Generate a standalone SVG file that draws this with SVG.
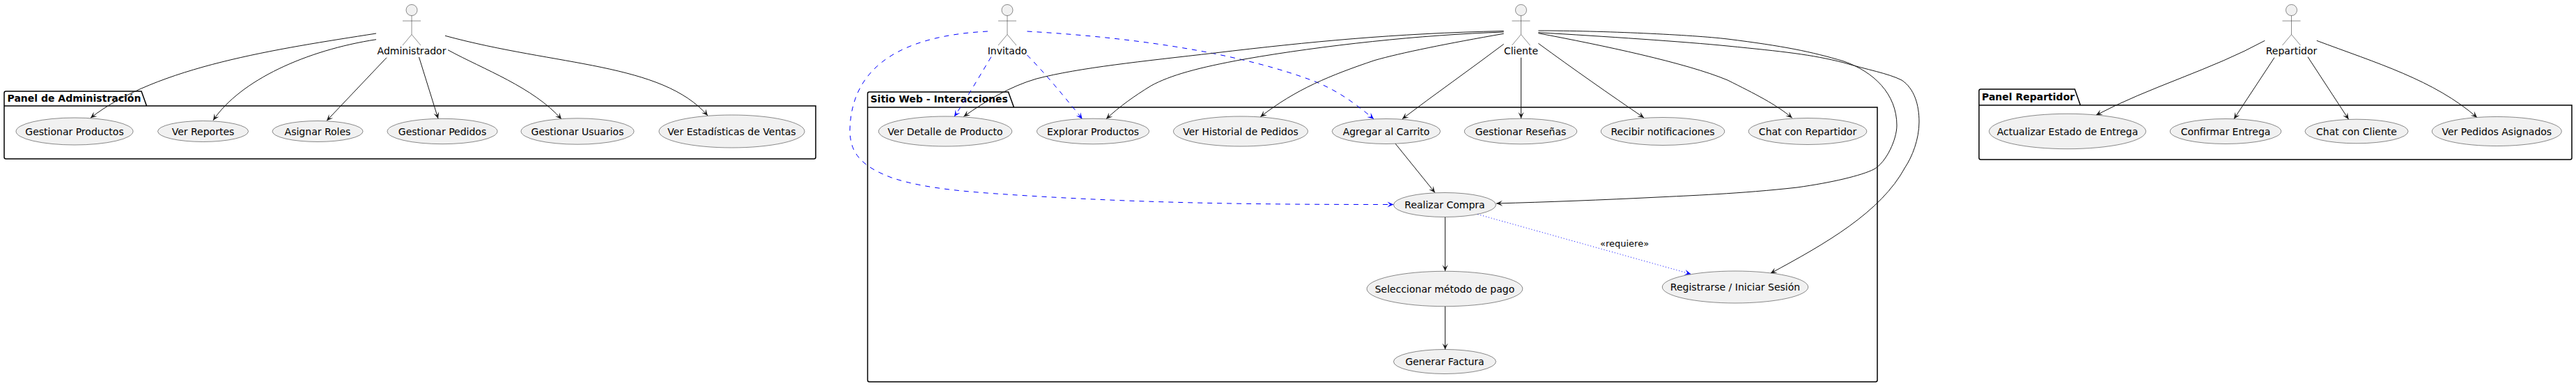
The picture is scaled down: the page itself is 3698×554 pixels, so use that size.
<svg xmlns="http://www.w3.org/2000/svg" width="3698" height="554" viewBox="0 0 3698 554">
<style>
text{font-family:"DejaVu Sans",sans-serif;font-size:14px;fill:#000;opacity:.999}
.c{text-anchor:middle}
.t{font-weight:bold}
.s{font-size:13px}
.pk{fill:none;stroke:#000;stroke-width:1.5}
.uc{fill:#F1F1F1;stroke:#181818;stroke-width:.5}
.ac{fill:none;stroke:#181818;stroke-width:.5}
.hd{fill:#F1F1F1;stroke:#181818;stroke-width:.5}
.e{fill:none;stroke:#181818;stroke-width:1;marker-end:url(#ab)}
.d{fill:none;stroke:#0000FF;stroke-width:1;stroke-dasharray:7,7;marker-end:url(#au)}
.o{fill:none;stroke:#0000FF;stroke-width:1;stroke-dasharray:1,3;marker-end:url(#au)}
</style>
<defs>
<marker id="ab" markerUnits="userSpaceOnUse" markerWidth="12" markerHeight="10" refX="10" refY="5" orient="auto"><path d="M10,5L1,1L5,5L1,9Z" fill="#181818"/></marker>
<marker id="au" markerUnits="userSpaceOnUse" markerWidth="12" markerHeight="10" refX="10" refY="5" orient="auto"><path d="M10,5L1,1L5,5L1,9Z" fill="#0000FF"/></marker>
</defs>
<rect width="3698" height="554" fill="#fff"/>
<g id="pkg-admin"><path class="pk" d="M6,152V133.5Q6,131 8.5,131H203L210.5,152M6,152H1171V225.5Q1171,228 1168.5,228H8.5Q6,228 6,225.5Z"/><text class="t" x="10.5" y="145.5">Panel de Administración</text></g>
<g id="pkg-web"><path class="pk" d="M1245.5,154V134.5Q1245.5,132 1248,132H1447.5L1455.5,154M1245.5,154H2695V545.5Q2695,548 2692.5,548H1248Q1245.5,548 1245.5,545.5Z"/><text class="t" x="1249.5" y="146.5">Sitio Web - Interacciones</text></g>
<g id="pkg-rep"><path class="pk" d="M2841,151V130.5Q2841,128 2843.5,128H2978.5L2986.5,151M2841,151H3692V226.5Q3692,229 3689.5,229H2843.5Q2841,229 2841,226.5Z"/><text class="t" x="2845" y="143.5">Panel Repartidor</text></g>
<g id="connectors">
<path class="e" d="M540,48C400,70 225,95 130,169.3"/>
<path class="e" d="M540,56.7C440,72 345,115 306,172.7"/>
<path class="e" d="M555,82.7L469,173.3"/>
<path class="e" d="M601.5,82L629,170.3"/>
<path class="e" d="M643,71.7C695,100 765,125 806,171"/>
<path class="e" d="M639,51.3C800,95 950,90 1016,166"/>
<path class="d" d="M1422.8,81.7C1400,120 1385,145 1370,167.3"/>
<path class="d" d="M1474.5,79C1500,105 1525,135 1553.7,170.7"/>
<path class="d" d="M1474.5,45C1650,55 1790,80 1887,116.7C1920,130 1945,148 1972,170.7"/>
<path class="d" d="M1417.9,45C1320,50 1222,80 1220,187C1220,222 1240,240 1280,255C1330,272 1400,276 1460,280C1650,292 1800,293.5 2000.5,293.5"/>
<path class="e" d="M2158.7,44.5C2000,48 1880,60 1744,76C1640,88 1550,97 1488,113C1450,124 1415,145 1383.4,167.3"/>
<path class="e" d="M2158.7,46C2040,50 1900,65 1786,85C1720,97 1680,108 1652.5,123C1628,138 1607,153 1588,170.7"/>
<path class="e" d="M2158.7,48.3C2080,62 2010,76 1973,86.7C1910,108 1860,128 1809.4,167.7"/>
<path class="e" d="M2158.7,63.3C2110,100 2060,135 2013,170.7"/>
<path class="e" d="M2183.6,82.7V170"/>
<path class="e" d="M2208.4,62.3C2260,100 2310,135 2360,169"/>
<path class="e" d="M2208.4,47.7C2300,65 2420,90 2480,115C2520,135 2550,150 2572.7,169.3"/>
<path class="e" d="M2208.4,44C2300,44 2430,50 2480,56C2560,66 2600,74 2647,88C2690,103 2723,135 2723,180C2723,200 2708,233 2690,243C2672,252 2630,262 2580,269C2500,278 2420,281 2380,283C2300,287 2220,290 2148,292"/>
<path class="e" d="M2208.4,46.7C2300,52 2420,60 2480,66C2560,74 2600,78 2647,90C2680,100 2710,105 2730,115C2748,127 2755,150 2755,175C2755,200 2745,225 2735,240C2700,305 2620,350 2541.7,392.3"/>
<path class="e" d="M2003,206L2060,276.5"/>
<path class="e" d="M2074.6,311.6V389.3"/>
<path class="e" d="M2074.6,439.7V501.8"/>
<path class="o" d="M2121.4,307.6L2427.3,393.3"/>
<text class="s" x="2297" y="354">«requiere»</text>
<path class="e" d="M3251.3,58.3C3175,100 3085,125 3009,165.3"/>
<path class="e" d="M3265,82.7L3207,170.7"/>
<path class="e" d="M3313,81.7L3371.6,171.3"/>
<path class="e" d="M3325.8,58.3C3410,90 3495,115 3556,168.7"/>
</g>
<g id="actor-admin"><circle class="hd" cx="591" cy="14.5" r="8"/><path class="ac" d="M591,22.5V49.5M578,30H604M591,49.5L578,65M591,49.5L604,65"/><text class="c" x="591" y="78">Administrador</text></g>
<g id="actor-invitado"><circle class="hd" cx="1446" cy="14.5" r="8"/><path class="ac" d="M1446,22.5V49.5M1433,30H1459M1446,49.5L1433,65M1446,49.5L1459,65"/><text class="c" x="1446" y="78">Invitado</text></g>
<g id="actor-cliente"><circle class="hd" cx="2183.5" cy="14.5" r="8"/><path class="ac" d="M2183.5,22.5V49.5M2170.5,30H2196.5M2183.5,49.5L2170.5,65M2183.5,49.5L2196.5,65"/><text class="c" x="2183.5" y="78">Cliente</text></g>
<g id="actor-repartidor"><circle class="hd" cx="3289.5" cy="14.5" r="8"/><path class="ac" d="M3289.5,22.5V49.5M3276.5,30H3302.5M3289.5,49.5L3276.5,65M3289.5,49.5L3302.5,65"/><text class="c" x="3289.5" y="78">Repartidor</text></g>
<g id="uc-gestionar-productos"><ellipse class="uc" cx="107" cy="188.5" rx="84" ry="19.5"/><text class="c" x="107" y="193.5">Gestionar Productos</text></g>
<g id="uc-ver-reportes"><ellipse class="uc" cx="291.5" cy="188.5" rx="65" ry="15"/><text class="c" x="291.5" y="193.5">Ver Reportes</text></g>
<g id="uc-asignar-roles"><ellipse class="uc" cx="456" cy="188.5" rx="65" ry="15"/><text class="c" x="456" y="193.5">Asignar Roles</text></g>
<g id="uc-gestionar-pedidos"><ellipse class="uc" cx="635" cy="188.5" rx="79" ry="18.2"/><text class="c" x="635" y="193.5">Gestionar Pedidos</text></g>
<g id="uc-gestionar-usuarios"><ellipse class="uc" cx="829" cy="188.5" rx="81" ry="18.7"/><text class="c" x="829" y="193.5">Gestionar Usuarios</text></g>
<g id="uc-ver-estadisticas"><ellipse class="uc" cx="1050.5" cy="188.5" rx="104.5" ry="23.5"/><text class="c" x="1050.5" y="193.5">Ver Estadísticas de Ventas</text></g>
<g id="uc-ver-detalle"><ellipse class="uc" cx="1357" cy="188.5" rx="95.7" ry="21.5"/><text class="c" x="1357" y="193.5">Ver Detalle de Producto</text></g>
<g id="uc-explorar"><ellipse class="uc" cx="1569" cy="188.5" rx="80.5" ry="18.3"/><text class="c" x="1569" y="193.5">Explorar Productos</text></g>
<g id="uc-historial"><ellipse class="uc" cx="1781" cy="188.5" rx="96.5" ry="21.5"/><text class="c" x="1781" y="193.5">Ver Historial de Pedidos</text></g>
<g id="uc-agregar"><ellipse class="uc" cx="1990" cy="188.5" rx="77.7" ry="18"/><text class="c" x="1990" y="193.5">Agregar al Carrito</text></g>
<g id="uc-resenas"><ellipse class="uc" cx="2183" cy="188.5" rx="80.7" ry="18.3"/><text class="c" x="2183" y="193.5">Gestionar Reseñas</text></g>
<g id="uc-notificaciones"><ellipse class="uc" cx="2387" cy="188.5" rx="88.7" ry="20"/><text class="c" x="2387" y="193.5">Recibir notificaciones</text></g>
<g id="uc-chat-repartidor"><ellipse class="uc" cx="2595" cy="188.5" rx="84.8" ry="19"/><text class="c" x="2595" y="193.5">Chat con Repartidor</text></g>
<g id="uc-realizar"><ellipse class="uc" cx="2074" cy="294" rx="73.5" ry="17.5"/><text class="c" x="2074" y="299">Realizar Compra</text></g>
<g id="uc-metodo"><ellipse class="uc" cx="2074" cy="414.5" rx="111.8" ry="25.2"/><text class="c" x="2074" y="419.5">Seleccionar método de pago</text></g>
<g id="uc-registrarse"><ellipse class="uc" cx="2491" cy="412" rx="104.7" ry="23"/><text class="c" x="2491" y="417">Registrarse / Iniciar Sesión</text></g>
<g id="uc-factura"><ellipse class="uc" cx="2074" cy="519" rx="73.5" ry="17.5"/><text class="c" x="2074" y="524">Generar Factura</text></g>
<g id="uc-actualizar"><ellipse class="uc" cx="2968" cy="188.5" rx="112.5" ry="25.2"/><text class="c" x="2968" y="193.5">Actualizar Estado de Entrega</text></g>
<g id="uc-confirmar"><ellipse class="uc" cx="3195" cy="188.5" rx="79.7" ry="18"/><text class="c" x="3195" y="193.5">Confirmar Entrega</text></g>
<g id="uc-chat-cliente"><ellipse class="uc" cx="3383" cy="188.5" rx="74" ry="17.3"/><text class="c" x="3383" y="193.5">Chat con Cliente</text></g>
<g id="uc-ver-pedidos"><ellipse class="uc" cx="3584.3" cy="188.5" rx="93" ry="21"/><text class="c" x="3584.3" y="193.5">Ver Pedidos Asignados</text></g>
</svg>
